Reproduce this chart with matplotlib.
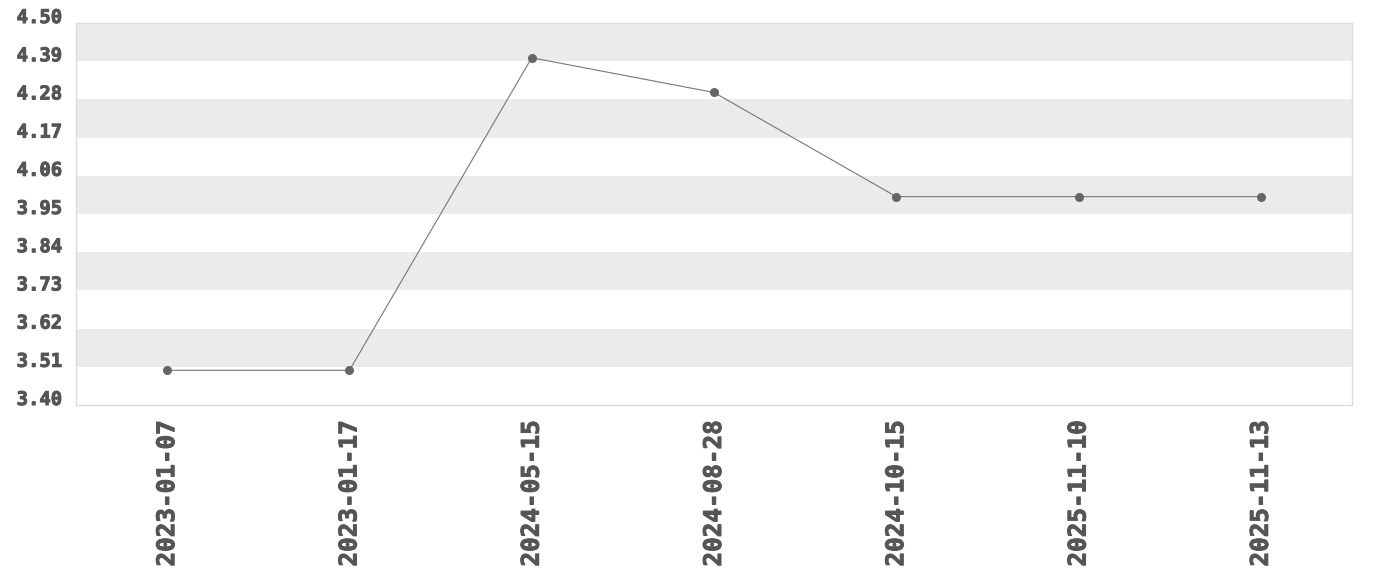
import matplotlib.pyplot as plt
import matplotlib.patheffects as pe

dates = ['2023-01-07', '2023-01-17', '2024-05-15', '2024-08-28',
         '2024-10-15', '2025-11-10', '2025-11-13']
values = [3.5, 3.5, 4.4, 4.3, 4.0, 4.0, 4.0]
yticks = [3.40, 3.51, 3.62, 3.73, 3.84, 3.95, 4.06, 4.17, 4.28, 4.39, 4.50]

plt.rcParams['font.family'] = 'DejaVu Sans Mono'
plt.rcParams['font.weight'] = 'bold'
txt_color = '#555555'
thick = [pe.withStroke(linewidth=0.7, foreground=txt_color)]

fig = plt.figure(figsize=(13.8, 5.8), dpi=100)
ax = fig.add_axes([0.0551, 0.3017, 0.9246, 0.6586])

# alternating bands, top band grey
for i in range(len(yticks) - 1):
    if (len(yticks) - 2 - i) % 2 == 0:
        ax.axhspan(yticks[i], yticks[i + 1], color='#ebebeb', lw=0, zorder=0)

x = list(range(len(dates)))
ax.plot(x, values, color='#777777', lw=0.8, marker='o', ms=5.5,
        mfc='#666666', mec='#666666', zorder=3)

ax.set_xlim(-0.5, len(dates) - 0.5)
ax.set_ylim(yticks[0], yticks[-1])
ax.set_xticks(x)
ax.set_xticklabels(dates, rotation=90, fontsize=17.5, color=txt_color)
ax.set_yticks(yticks)
ax.set_yticklabels([f'{v:.2f}' for v in yticks], fontsize=13.6, color=txt_color)
for lab in ax.get_yticklabels():
    lab.set_va('baseline')
    lab.set_path_effects(thick)
for lab in ax.get_xticklabels():
    lab.set_path_effects(thick)
ax.tick_params(axis='both', length=0)
ax.tick_params(axis='y', pad=10)
ax.tick_params(axis='x', pad=11)
for s in ax.spines.values():
    s.set_color('#dddddd')
    s.set_linewidth(1)

fig.savefig('out.png', dpi=100)
